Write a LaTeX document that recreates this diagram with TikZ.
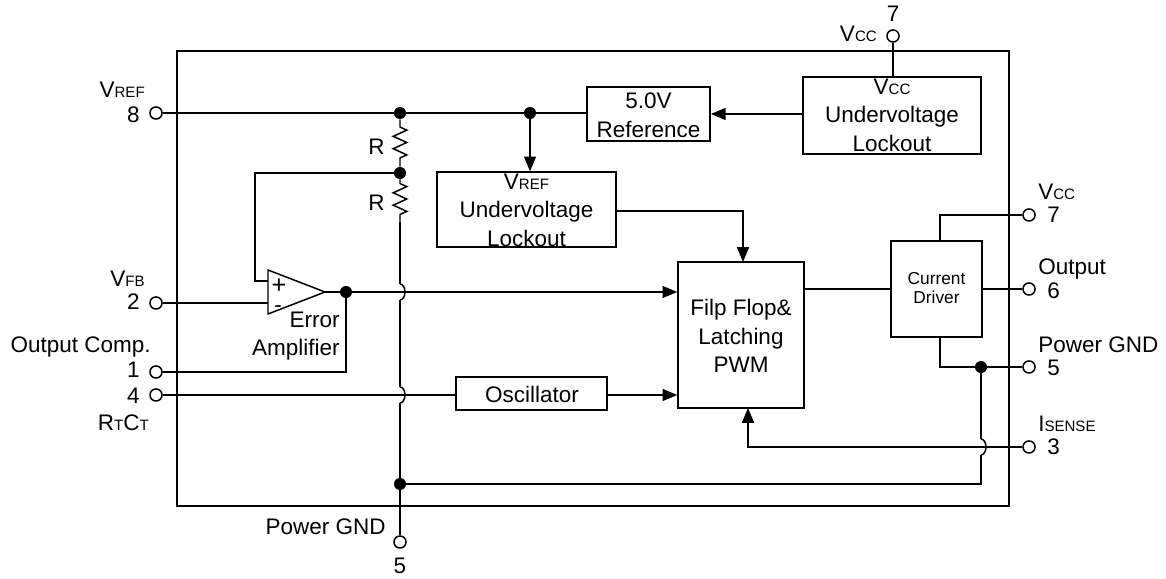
\documentclass[tikz,border=0pt]{standalone}
\usepackage{xcolor}
\usepackage{fontspec}
\setmainfont{Liberation Sans}
\usetikzlibrary{arrows.meta,decorations.pathmorphing}
\newcommand{\subtxt}[1]{{\fontsize{10.7}{12}\selectfont #1}}
\tikzset{
  wire/.style={black,line width=1.05pt,line join=miter},
  arrowed/.style={wire,-{Triangle[length=10.5pt,width=8.5pt]}},
  block/.style={draw,black,line width=1.05pt,inner sep=0pt},
  pinhole/.style={circle,draw,black,fill=white,line width=1.05pt,minimum size=8.6pt,inner sep=0pt},
  dotnode/.style={circle,fill=black,minimum size=8.6pt,inner sep=0pt},
  txt/.style={inner sep=0pt,font=\fontsize{16}{19}\selectfont},
  smalltxt/.style={inner sep=0pt,font=\fontsize{12.3}{14}\selectfont},
  signtxt/.style={inner sep=0pt,font=\fontsize{18}{19}\selectfont},
  hop/.style={wire,line cap=butt},
  resistor/.style={wire,decorate,decoration={zigzag,amplitude=4.8pt,segment length=8.8pt,pre length=3pt,post length=3pt}}
}
\begin{document}
\begin{tikzpicture}[scale=0.25]
        \useasboundingbox (0,0) rectangle (116.6,-57.9);
        \draw [wire] (17.7,-5.1) rectangle (100.9,-50.6);
        % blocks
        \node [block,minimum width=3.08cm,minimum height=1.35cm] (refbox) at (64.85,-11.4) {};
        \node [block,minimum width=4.45cm,minimum height=1.92cm] (vccuv) at (89.2,-11.55) {};
        \node [block,minimum width=4.47cm,minimum height=1.87cm] (vrefuv) at (52.65,-20.95) {};
        \node [block,minimum width=3.15cm,minimum height=3.65cm] (flip) at (74.1,-33.5) {};
        \node [block,minimum width=2.27cm,minimum height=2.4cm] (driver) at (93.65,-28.9) {};
        \node [block,minimum width=3.77cm,minimum height=0.82cm] (osc) at (53.15,-39.35) {};
        % pins
        \node [pinhole] (pineight) at (15.6,-11.3) {};
        \node [pinhole] (pintwo) at (15.6,-30.3) {};
        \node [pinhole] (pinone) at (15.6,-37.2) {};
        \node [pinhole] (pinfour) at (15.6,-39.5) {};
        \node [pinhole] (pinvcctop) at (89.3,-3.6) {};
        \node [pinhole] (pinvcc) at (102.9,-21.5) {};
        \node [pinhole] (pinout) at (102.9,-28.9) {};
        \node [pinhole] (pingnd) at (102.9,-36.7) {};
        \node [pinhole] (pinsense) at (102.9,-44.7) {};
        \node [pinhole] (pingndbot) at (40,-54.2) {};
        % dots
        \node [dotnode] (dotref) at (40,-11.3) {};
        \node [dotnode] (dotuv) at (53,-11.3) {};
        \node [dotnode] (dotfb) at (40,-17.3) {};
        \node [dotnode] (dotamp) at (34.6,-29.2) {};
        \node [dotnode] (dotgnd) at (40,-48.4) {};
        \node [dotnode] (dotdrv) at (98.1,-36.7) {};
        % error amplifier
        \coordinate (amptop) at (26.8,-27);
        \coordinate (ampbot) at (26.8,-31.4);
        \coordinate (ampout) at (32.5,-29.2);
        \coordinate (ampplus) at (26.8,-28.1);
        \coordinate (ampminus) at (26.8,-30.3);
        \draw [wire] (amptop) -- (ampbot) -- (ampout) -- cycle;
        % coordinates for the hops
        \coordinate (rend) at (40,-22.2);
        \coordinate (hopone) at (40,-28.4);
        \coordinate (hoponeb) at (40,-30);
        \coordinate (hoptwo) at (40,-38.7);
        \coordinate (hoptwob) at (40,-40.3);
        \coordinate (hopthree) at (98.1,-43.9);
        \coordinate (hopthreeb) at (98.1,-45.5);
        \coordinate (gndturn) at (98.1,-48.4);
        % connectors
        \draw [wire] (pineight) -- (dotref);
        \draw [wire] (dotref) -- (dotuv);
        \draw [wire] (dotuv) -- (refbox.west |- dotuv);
        \draw [arrowed] (vccuv.west |- refbox) -- (refbox.east);
        \draw [wire] (pinvcctop) -- (pinvcctop |- vccuv.north);
        \draw [arrowed] (dotuv) -- (dotuv |- vrefuv.north);
        \draw [resistor,decoration={pre length=5.5pt}] (dotref) -- (dotfb);
        \draw [resistor] (dotfb) -- (rend);
        \draw [wire] (dotfb) -| (25.5,-28.1) -- (ampplus);
        \draw [wire] (pintwo) -- (ampminus);
        \draw [wire] (ampout) -- (dotamp);
        \draw [arrowed] (dotamp) -- (flip.west |- dotamp);
        \draw [wire] (dotamp) |- (pinone);
        \draw [wire] (pinfour) -- (osc.west |- pinfour);
        \draw [arrowed] (osc.east |- pinfour) -- (flip.west |- pinfour);
        \draw [wire] (rend) -- (hopone);
        \draw [hop] (hopone) arc [start angle=90,end angle=-90,x radius=0.5,y radius=0.8];
        \draw [wire] (hoponeb) -- (hoptwo);
        \draw [hop] (hoptwo) arc [start angle=90,end angle=-90,x radius=0.5,y radius=0.8];
        \draw [wire] (hoptwob) -- (dotgnd);
        \draw [wire] (dotgnd) -- (pingndbot);
        \draw [arrowed] (vrefuv.east |- 0,-21.1) -| (74.3,-26.2);
        \draw [wire] (flip.east |- driver) -- (driver.west);
        \draw [wire] (driver.east) -- (pinout);
        \draw [wire] (94,-24.1) |- (pinvcc);
        \draw [wire] (94,-33.7) |- (pingnd);
        \draw [wire] (dotdrv) -- (hopthree);
        \draw [hop] (hopthree) arc [start angle=90,end angle=-90,x radius=0.5,y radius=0.8];
        \draw [wire] (hopthreeb) -- (gndturn) -- (dotgnd);
        \draw [arrowed] (pinsense) -| (74.8,-40.8);
        % texts
        \node [txt,align=center] (refbox text) at (64.85,-11.5) {5.0V\\[1.5pt]Reference};
        \node [txt,align=center] (vccuv text) at (89.2,-11.5) {V\subtxt{CC}\\[1.2pt]Undervoltage\\[1.2pt]Lockout};
        \node [txt,align=center] (vrefuv text) at (52.65,-21) {V\subtxt{REF}\\[1.2pt]Undervoltage\\[1.2pt]Lockout};
        \node [txt,align=center] (flip text) at (74.1,-33.6) {Filp Flop\&\\[1.2pt]Latching\\[1.2pt]PWM};
        \node [txt] (osc text) at (53.2,-39.4) {Oscillator};
        \node [smalltxt,align=center] (driver text) at (93.65,-28.8) {Current\\[0pt]Driver};
        \node [txt,anchor=base east] (rone) at (38.5,-15.5) {R};
        \node [txt,anchor=base east] (rtwo) at (38.5,-21.1) {R};
        \node [signtxt,anchor=base] (plus) at (27.9,-29.4) {+};
        \node [txt,anchor=base] (minus) at (27.8,-31.3) {-};
        \node [txt,anchor=base east] (ampone) at (34,-32.8) {Error};
        \node [txt,anchor=base east] (amptwo) at (34,-35.6) {Amplifier};
        \node [txt,anchor=base east] (lblvref) at (14.5,-9.8) {V\subtxt{REF}};
        \node [txt,anchor=base east] (numeight) at (14,-12.3) {8};
        \node [txt,anchor=base east] (lblfb) at (14.5,-28.7) {V\subtxt{FB}};
        \node [txt,anchor=base east] (numtwo) at (14,-31) {2};
        \node [txt,anchor=base east] (lblcomp) at (15.1,-35.3) {Output Comp.};
        \node [txt,anchor=base east] (numone) at (14,-37.8) {1};
        \node [txt,anchor=base east] (numfour) at (14,-40.4) {4};
        \node [txt,anchor=base east] (lblrc) at (14.9,-43.1) {R\subtxt{T}C\subtxt{T}};
        \node [txt,anchor=base east] (lblvcctop) at (87.7,-4.2) {V\subtxt{CC}};
        \node [txt,anchor=base] (numvcctop) at (89.3,-2.2) {7};
        \node [txt,anchor=base west] (lblvcc) at (103.8,-20) {V\subtxt{CC}};
        \node [txt,anchor=base west] (numvcc) at (104.7,-22.3) {7};
        \node [txt,anchor=base west] (lblout) at (103.8,-27.5) {Output};
        \node [txt,anchor=base west] (numout) at (104.7,-29.9) {6};
        \node [txt,anchor=base west] (lblgnd) at (103.8,-35.3) {Power GND};
        \node [txt,anchor=base west] (numgnd) at (104.7,-37.6) {5};
        \node [txt,anchor=base west] (lblsense) at (103.8,-43.2) {I\subtxt{SENSE}};
        \node [txt,anchor=base west] (numsense) at (104.7,-45.5) {3};
        \node [txt,anchor=base east] (lblgndbot) at (38.6,-53.5) {Power GND};
        \node [txt,anchor=base] (numgndbot) at (40,-57.4) {5};
    \end{tikzpicture}
\end{document}
